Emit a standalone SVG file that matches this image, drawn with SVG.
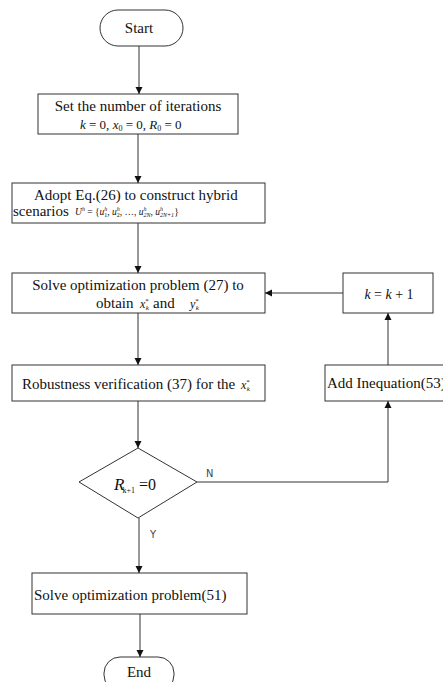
<svg xmlns="http://www.w3.org/2000/svg" width="443" height="682" viewBox="0 0 443 682">
<defs>
<marker id="ah" viewBox="0 0 10 10" refX="10" refY="5" markerWidth="7" markerHeight="8" orient="auto" markerUnits="userSpaceOnUse">
<path d="M0,0 L10,5 L0,10 z" fill="#111"/>
</marker>
<style>
.sh{fill:#fff;stroke:#333;stroke-width:1}
.t{font-family:"Liberation Serif","Times New Roman",serif;font-size:15px;fill:#111}
.m{font-family:"Liberation Serif","Times New Roman",serif;font-style:italic;fill:#111}
.i{font-style:italic}
.c{fill:none;stroke:#333;stroke-width:1}
.lb{font-family:"Liberation Sans Narrow","DejaVu Sans Condensed","Liberation Sans",sans-serif;font-size:11px;fill:#444}
</style>
</defs>
<rect width="443" height="682" fill="#fff"/>
<g id="start">
<rect class="sh" x="100" y="10" width="83" height="36" rx="18"/>
<text class="t" x="139" y="33" text-anchor="middle">Start</text>
</g>
<g id="init">
<rect class="sh" x="38" y="94" width="200" height="40"/>
<text class="t" x="138" y="111" text-anchor="middle">Set the number of iterations</text>
<text class="m" x="80" y="129" font-size="13">k<tspan font-style="normal"> = 0, </tspan>x<tspan font-style="normal" font-size="8" dy="2">0</tspan><tspan font-style="normal" dy="-2"> = 0, </tspan>R<tspan font-style="normal" font-size="8" dy="2">0</tspan><tspan font-style="normal" dy="-2"> = 0</tspan></text>
</g>
<g id="scenarios">
<rect class="sh" x="12" y="183" width="253" height="40"/>
<text class="t" x="34" y="200">Adopt  Eq.(26) to construct hybrid</text>
<text class="t" x="13" y="216" font-size="14">scenarios<tspan class="i" x="75" dy="-1" font-size="9.5">U</tspan><tspan class="i" font-size="6" dy="-4">h</tspan><tspan dy="4" font-size="9.5"> = {</tspan><tspan class="i" font-size="9.5">u</tspan><tspan class="i" font-size="6" dy="-4">h</tspan><tspan font-size="6" dx="-3" dy="6">1</tspan><tspan dy="-2" font-size="9.5">, </tspan><tspan class="i" font-size="9.5">u</tspan><tspan class="i" font-size="6" dy="-4">h</tspan><tspan font-size="6" dx="-3" dy="6">2</tspan><tspan dy="-2" font-size="9.5">, …, </tspan><tspan class="i" font-size="9.5">u</tspan><tspan class="i" font-size="6" dy="-4">h</tspan><tspan class="i" font-size="6" dx="-3" dy="6">2N</tspan><tspan dy="-2" font-size="9.5">, </tspan><tspan class="i" font-size="9.5">u</tspan><tspan class="i" font-size="6" dy="-4">h</tspan><tspan class="i" font-size="6" dx="-3" dy="6">2N+1</tspan><tspan dy="-2" font-size="9.5">}</tspan></text>
</g>
<g id="solve27">
<rect class="sh" x="12" y="273" width="253" height="40"/>
<text class="t" x="138" y="290" text-anchor="middle">Solve optimization problem (27) to</text>
<text class="t" x="96" y="308">obtain<tspan class="i" x="140" font-size="12">x</tspan><tspan font-size="7" dy="-5">*</tspan><tspan class="i" font-size="7" dx="-3" dy="7">k</tspan><tspan x="153" dy="-2">and</tspan><tspan class="i" x="190" font-size="12">y</tspan><tspan font-size="7" dy="-5">*</tspan><tspan class="i" font-size="7" dx="-3" dy="7">k</tspan></text>
</g>
<g id="robust">
<rect class="sh" x="12" y="365" width="253" height="36"/>
<text class="t" x="22" y="389">Robustness verification (37) for the<tspan class="i" x="241" font-size="12">x</tspan><tspan font-size="7" dy="-5">*</tspan><tspan class="i" font-size="7" dx="-3" dy="7">k</tspan></text>
</g>
<g id="decision">
<polygon class="sh" points="138,448 197,482 138,518 79,482"/>
<text class="m" x="114" y="490" font-size="17">R<tspan font-size="8" dx="-2" dy="3" font-style="normal">k+1</tspan><tspan dy="-3" font-style="normal" font-size="16"> =0</tspan></text>
</g>
<g id="solve51">
<rect class="sh" x="32" y="573" width="215" height="41"/>
<text class="t" x="34" y="600">Solve optimization problem(51)</text>
</g>
<g id="end">
<rect class="sh" x="104" y="657" width="70" height="34" rx="16"/>
<text class="t" x="139" y="677" text-anchor="middle">End</text>
</g>
<g id="addineq">
<rect class="sh" x="325" y="365" width="130" height="36"/>
<text class="t" x="327" y="388">Add Inequation(53)</text>
</g>
<g id="kinc">
<rect class="sh" x="343" y="273" width="90" height="40"/>
<text class="m" x="389" y="299" font-size="14" text-anchor="middle">k<tspan font-style="normal"> = </tspan>k<tspan font-style="normal"> + 1</tspan></text>
</g>
<g id="connectors">
<line class="c" x1="139" y1="46" x2="139" y2="94" marker-end="url(#ah)"/>
<line class="c" x1="138" y1="134" x2="138" y2="183" marker-end="url(#ah)"/>
<line class="c" x1="138" y1="223" x2="138" y2="273" marker-end="url(#ah)"/>
<line class="c" x1="138" y1="313" x2="138" y2="365" marker-end="url(#ah)"/>
<line class="c" x1="138" y1="401" x2="138" y2="448" marker-end="url(#ah)"/>
<line class="c" x1="139" y1="518" x2="139" y2="573" marker-end="url(#ah)"/>
<line class="c" x1="140" y1="614" x2="140" y2="657" marker-end="url(#ah)"/>
<polyline class="c" points="197,482 388,482 388,401" marker-end="url(#ah)"/>
<line class="c" x1="388" y1="365" x2="388" y2="313" marker-end="url(#ah)"/>
<line class="c" x1="343" y1="293" x2="265" y2="293" marker-end="url(#ah)"/>
<text class="lb" x="206" y="477">N</text>
<text class="lb" x="150" y="538">Y</text>
</g>
</svg>
